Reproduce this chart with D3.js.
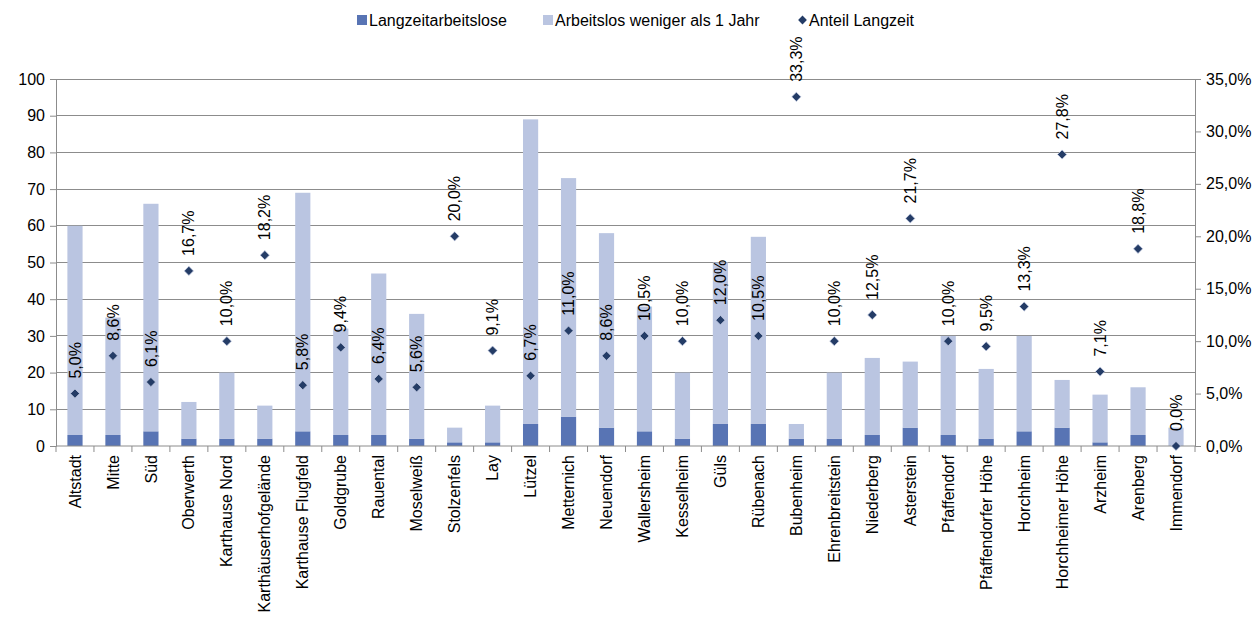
<!DOCTYPE html>
<html><head><meta charset="utf-8">
<script src="https://cdn.jsdelivr.net/npm/d3@7"></script>
<style>body{margin:0;background:#fff}svg{display:block;font-family:"Liberation Sans",Arial,sans-serif}</style>
</head><body><svg id="c" width="1258" height="619"></svg>
<script>
const categories = ["Altstadt","Mitte","Süd","Oberwerth","Karthause Nord","Karthäuserhofgelände","Karthause Flugfeld","Goldgrube","Rauental","Moselweiß","Stolzenfels","Lay","Lützel","Metternich","Neuendorf","Wallersheim","Kesselheim","Güls","Rübenach","Bubenheim","Ehrenbreitstein","Niederberg","Asterstein","Pfaffendorf","Pfaffendorfer Höhe","Horchheim","Horchheimer Höhe","Arzheim","Arenberg","Immendorf"];
const langzeit = [3,3,4,2,2,2,4,3,3,2,1,1,6,8,5,4,2,6,6,2,2,3,5,3,2,4,5,1,3,0];
const kurz     = [57,32,62,10,18,9,65,29,44,34,4,10,83,65,53,34,18,44,51,4,18,21,18,27,19,26,13,13,13,5];
const anteil   = [5.0,8.6,6.1,16.7,10.0,18.2,5.8,9.4,6.4,5.6,20.0,9.1,6.7,11.0,8.6,10.5,10.0,12.0,10.5,33.3,10.0,12.5,21.7,10.0,9.5,13.3,27.8,7.1,18.8,0.0];
const leftTicks = [0,10,20,30,40,50,60,70,80,90,100];
const rightTicks = [0,5,10,15,20,25,30,35];
const seriesNames = ["Langzeitarbeitslose","Arbeitslos weniger als 1 Jahr","Anteil Langzeit"];

const colDark = "#5874b4", colLight = "#bac5e1", colMark = "#243c66";
const svg = d3.select("#c");
const m = {l:56, r:1195, t:79, b:446};
const x = d3.scaleBand().domain(categories).range([m.l, m.r]).paddingInner(0.6).paddingOuter(0.3);
const y = d3.scaleLinear().domain([0,100]).range([m.b, m.t]);
const y2 = d3.scaleLinear().domain([0,35]).range([m.b, m.t]);
const fmt = v => v.toFixed(1).replace(".", ",") + "%";
const dia = s => `M0,${-s}L${s},0L0,${s}L${-s},0Z`;

// gridlines
svg.append("g").selectAll("line").data(leftTicks.slice(1)).join("line")
  .attr("x1", m.l).attr("x2", m.r).attr("y1", d=>y(d)).attr("y2", d=>y(d))
  .attr("stroke", "#8c8c8c").attr("stroke-width", 1).attr("shape-rendering","crispEdges");

// bars
const rows = categories.map((c,i)=>({c, a:langzeit[i], b:kurz[i], p:anteil[i]}));
const stack = d3.stack().keys(["a","b"])(rows);
const cols = [colDark, colLight];
stack.forEach((s,k)=>{
  svg.append("g").attr("fill", cols[k]).selectAll("rect").data(s).join("rect")
    .attr("x", d=>x(d.data.c)).attr("width", x.bandwidth())
    .attr("y", d=>y(d[1])).attr("height", d=>y(d[0])-y(d[1]));
});

// axes
const gl = svg.append("g").attr("transform",`translate(${m.l},0)`)
  .call(d3.axisLeft(y).tickValues(leftTicks).tickSize(6).tickPadding(5));
const gr = svg.append("g").attr("transform",`translate(${m.r},0)`)
  .call(d3.axisRight(y2).tickValues(rightTicks).tickSize(6).tickPadding(5).tickFormat(d=>fmt(d)));
const gb = svg.append("g").attr("transform",`translate(0,${m.b})`)
  .call(d3.axisBottom(x).tickSize(0).tickPadding(0));
[gl,gr,gb].forEach(g=>{
  g.selectAll("path,line").attr("stroke","#8c8c8c");
  g.selectAll("text").attr("fill","#000").style("font-size","16px").style("font-family","Liberation Sans, Arial, sans-serif");
});
gb.selectAll("path").attr("d", `M${m.l},0H${m.r}`);
gb.selectAll(".tick text").attr("transform","rotate(-90)").attr("text-anchor","end")
  .attr("x",-9).attr("y",0).attr("dy","0.35em");
// category separator ticks
svg.append("g").selectAll("line").data(d3.range(categories.length+1)).join("line")
  .attr("x1", i=>m.l + i*(m.r-m.l)/categories.length).attr("x2", i=>m.l + i*(m.r-m.l)/categories.length)
  .attr("y1", m.b).attr("y2", m.b+6).attr("stroke","#8c8c8c");

// markers
svg.append("g").selectAll("path").data(rows).join("path")
  .attr("d", dia(4.6))
  .attr("transform", d=>`translate(${x(d.c)+x.bandwidth()/2},${y2(d.p)})`)
  .attr("fill", colMark).attr("stroke","#c8d0e6").attr("stroke-width",0.7);
svg.append("g").selectAll("text").data(rows).join("text")
  .attr("transform", d=>`translate(${x(d.c)+x.bandwidth()/2},${y2(d.p)-15}) rotate(-90)`)
  .attr("dy","0.35em").attr("text-anchor","start")
  .style("font-size","16px").attr("fill","#000").text(d=>fmt(d.p));

// legend
const lg = svg.append("g").style("font-size","16px");
const items = [{n:seriesNames[0], t:"rect", c:colDark, x:357, tx:369},{n:seriesNames[1], t:"rect", c:colLight, x:543, tx:555},{n:seriesNames[2], t:"dia", c:colMark, x:797.5, tx:809}];
items.forEach(it=>{
  if(it.t==="rect") lg.append("rect").attr("x",it.x).attr("y",15).attr("width",10).attr("height",10).attr("fill",it.c);
  else lg.append("path").attr("d", dia(4.4)).attr("transform",`translate(${it.x+5},20)`).attr("fill",it.c);
  lg.append("text").attr("x",it.tx).attr("y",20).attr("dy","0.35em").text(it.n);
});
</script></body></html>
